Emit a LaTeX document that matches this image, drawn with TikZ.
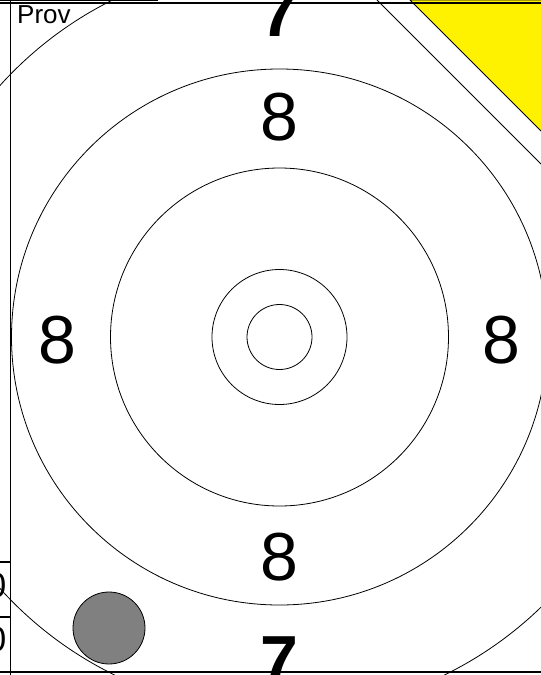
\documentclass[tikz,border=0pt]{standalone}
\usepackage{fontspec}
\setmainfont{Liberation Sans}
\tikzset{
  ring/.style={draw=black, line width=0.8pt},
  frameline/.style={draw=black, line width=1.4pt},
  score/.style={inner sep=0pt, font=\fontsize{68}{68}\selectfont},
  bigseven/.style={inner sep=0pt, font=\fontsize{68}{68}\selectfont\bfseries},
  sidedigit/.style={inner sep=0pt, anchor=east, font=\fontsize{35}{35}\selectfont},
}
\begin{document}
\begin{tikzpicture}[x=1pt, y=-1pt]
\useasboundingbox (0,0) rectangle (541,675);
\fill[white] (0,0) rectangle (541,675);
\begin{scope}
\clip (0,0) rectangle (541,675);
\coordinate (c) at (279.5,337);
% rings
\draw[ring] (c) circle[radius=32.5];
\draw[ring] (c) circle[radius=67.5];
\draw[ring] (c) circle[radius=169];
\draw[ring] (c) circle[radius=268];
\draw[ring] (c) circle[radius=376];
% diagonal and yellow corner
\draw[ring] (377,0) -- (550,173);
\filldraw[fill=yellow, draw=black, line width=0.8pt] (410,0) -- (560,0) -- (560,150) -- cycle;
% score digits
\node[score] (t8) at (279.5,117) {8};
\node[score] (b8) at (279.5,557) {8};
\node[score] (l8) at (57.5,340) {8};
\node[score] (r8) at (501.5,340) {8};
\node[bigseven] (t7) at (279.5,13) {7};
\node[bigseven] (b7) at (279.5,660) {7};
% shot
\filldraw[fill=gray, draw=black, line width=0.8pt] (109,628) circle[radius=36];
% frame
\draw[frameline] (0,3) -- (541,3);
\draw[line width=0.8pt] (0,0.6) -- (157,0.6) -- (157,0);
\draw[frameline] (10.5,0) -- (10.5,675);
\draw[frameline] (0,672) -- (541,672);
\draw[frameline] (0,562) -- (10.5,562);
\draw[frameline] (0,617) -- (10.5,617);
\node[sidedigit] (s1) at (6.5,585) {0};
\node[sidedigit] (s2) at (6.5,639) {0};
\node[anchor=north west, inner sep=0pt, font=\fontsize{26}{26}\selectfont] (prov) at (17,5) {Prov};
\end{scope}
\end{tikzpicture}
\end{document}
